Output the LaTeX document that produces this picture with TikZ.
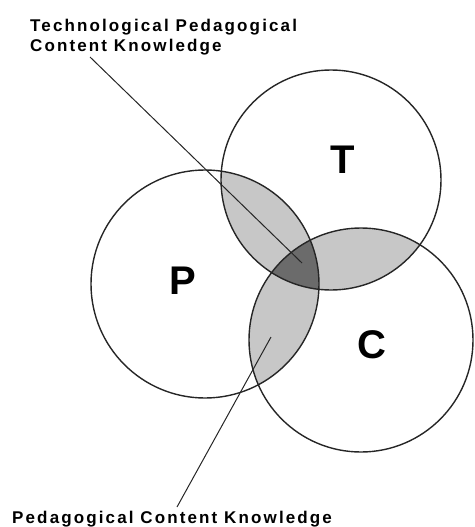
\documentclass[tikz,border=0pt]{standalone}
\usepackage{fontspec}
\setmainfont{Liberation Sans}
\newfontfamily\lblfont[LetterSpace=12.5]{Liberation Sans}
\definecolor{lightfill}{gray}{0.78}
\definecolor{darkfill}{gray}{0.42}
\definecolor{edge}{gray}{0.15}
\tikzset{
  ring/.style={draw=edge, line width=1.4pt},
  leader/.style={draw=edge, line width=1pt},
  caption/.style={font=\lblfont\bfseries\fontsize{17}{20}\selectfont, inner sep=0pt, anchor=base west},
  letter/.style={font=\bfseries\fontsize{40}{42}\selectfont, inner sep=0pt}
}
\begin{document}
\begin{tikzpicture}[x=1pt,y=-1pt]
\useasboundingbox (0,0) rectangle (474,527);
\coordinate (Tc) at (331,180);
\coordinate (Pc) at (205,284);
\coordinate (Cc) at (361,340);
% pairwise intersections
\begin{scope}\clip (Tc) circle (110pt); \fill[lightfill] (Pc) circle (114pt); \end{scope}
\begin{scope}\clip (Tc) circle (110pt); \fill[lightfill] (Cc) circle (112pt); \end{scope}
\begin{scope}\clip (Pc) circle (114pt); \fill[lightfill] (Cc) circle (112pt); \end{scope}
% triple intersection
\begin{scope}\clip (Tc) circle (110pt); \clip (Pc) circle (114pt); \fill[darkfill] (Cc) circle (112pt); \end{scope}
\draw[ring] (Tc) circle (110pt);
\draw[ring] (Pc) circle (114pt);
\draw[ring] (Cc) circle (112pt);
\node[letter] (T) at (343,160) {T};
\node[letter] (P) at (183,281) {P};
\node[letter] (C) at (372,345) {C};
\node[caption] (tpck1) at (30,32) {Technological Pedagogical};
\node[caption] (tpck2) at (30,52) {Content Knowledge};
\node[caption] (pck) at (12,523) {Pedagogical Content Knowledge};
\coordinate (l1a) at (90,57);
\coordinate (l1b) at (302,263);
\coordinate (l2a) at (177,507);
\coordinate (l2b) at (271,337);
\draw[leader] (l1a) -- (l1b);
\draw[leader] (l2a) -- (l2b);
\end{tikzpicture}
\end{document}
